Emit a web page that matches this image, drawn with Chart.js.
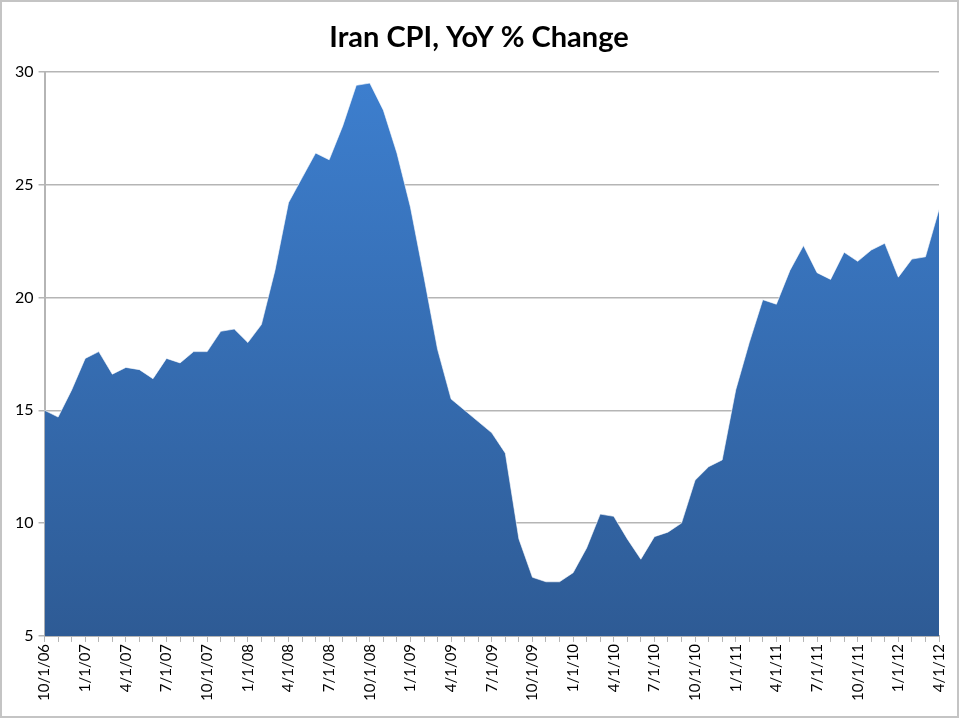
<!DOCTYPE html>
<html lang="en">
<head>
    <meta charset="UTF-8">
    <title>Iran CPI, YoY % Change</title>
    <script src="https://cdn.jsdelivr.net/npm/chart.js"></script>
    <style>
        body {
            margin: 0;
            background-color: #fff;
        }
        canvas {
            display: block;
        }
    </style>
</head>
<body>
    <canvas id="cpiChart" width="959" height="720"></canvas>

    <script>
        // monthly categories, 10/1/06 .. 4/1/12
        const months = [
            '10/1/06', '11/1/06', '12/1/06',
            '1/1/07', '2/1/07', '3/1/07', '4/1/07', '5/1/07', '6/1/07', '7/1/07', '8/1/07', '9/1/07', '10/1/07', '11/1/07', '12/1/07',
            '1/1/08', '2/1/08', '3/1/08', '4/1/08', '5/1/08', '6/1/08', '7/1/08', '8/1/08', '9/1/08', '10/1/08', '11/1/08', '12/1/08',
            '1/1/09', '2/1/09', '3/1/09', '4/1/09', '5/1/09', '6/1/09', '7/1/09', '8/1/09', '9/1/09', '10/1/09', '11/1/09', '12/1/09',
            '1/1/10', '2/1/10', '3/1/10', '4/1/10', '5/1/10', '6/1/10', '7/1/10', '8/1/10', '9/1/10', '10/1/10', '11/1/10', '12/1/10',
            '1/1/11', '2/1/11', '3/1/11', '4/1/11', '5/1/11', '6/1/11', '7/1/11', '8/1/11', '9/1/11', '10/1/11', '11/1/11', '12/1/11',
            '1/1/12', '2/1/12', '3/1/12', '4/1/12'
        ];

        // YoY % change
        const cpiYoY = [
            15.0, 14.7, 15.9,
            17.3, 17.6, 16.6, 16.9, 16.8, 16.4, 17.3, 17.1, 17.6, 17.6, 18.5, 18.6,
            18.0, 18.8, 21.2, 24.2, 25.3, 26.4, 26.1, 27.6, 29.4, 29.5, 28.3, 26.4,
            24.0, 20.9, 17.7, 15.5, 15.0, 14.5, 14.0, 13.1, 9.3, 7.6, 7.4, 7.4,
            7.8, 8.9, 10.4, 10.3, 9.3, 8.4, 9.4, 9.6, 10.0, 11.9, 12.5, 12.8,
            15.9, 18.0, 19.9, 19.7, 21.2, 22.3, 21.1, 20.8, 22.0, 21.6, 22.1, 22.4,
            20.9, 21.7, 21.8, 23.9
        ];

        // y axis range
        const yMin = 5;
        const yMax = 30;
        const yStep = 5;

        // gray frame round the whole picture
        const framePlugin = {
            id: 'frame',
            afterDraw(chart) {
                const ctx = chart.ctx;
                ctx.save();
                ctx.strokeStyle = '#c4c4c4';
                ctx.lineWidth = 2;
                ctx.strokeRect(1, 1, chart.width - 2, chart.height - 4);
                ctx.restore();
            }
        };

        // vertical blue gradient for the area
        function areaGradient(context) {
            const area = context.chart.chartArea;
            if (!area) {
                return '#3669b0';
            }
            const g = context.chart.ctx.createLinearGradient(0, area.top, 0, area.bottom);
            g.addColorStop(0, '#3d7fcf');
            g.addColorStop(1, '#2e5b95');
            return g;
        }

        const ctx = document.getElementById('cpiChart').getContext('2d');

        new Chart(ctx, {
            type: 'line',
            data: {
                labels: months,
                datasets: [{
                    label: 'Iran CPI',
                    data: cpiYoY,
                    fill: 'start',
                    backgroundColor: areaGradient,
                    borderColor: 'rgba(255,255,255,0.6)',
                    borderWidth: 1,
                    pointRadius: 0,
                    tension: 0
                }]
            },
            options: {
                responsive: false,
                animation: false,
                layout: {
                    padding: { left: 10, right: 11, top: 0, bottom: 17 }
                },
                plugins: {
                    legend: { display: false },
                    tooltip: { enabled: false },
                    title: {
                        display: true,
                        text: 'Iran CPI, YoY % Change',
                        color: '#000',
                        font: { family: 'Lato', size: 29, weight: 'bold' },
                        padding: { top: 20, bottom: 17 }
                    }
                },
                scales: {
                    x: {
                        grid: {
                            drawOnChartArea: false,
                            color: '#b5b5b5',
                            tickLength: 6
                        },
                        border: { color: '#b5b5b5', width: 2 },
                        ticks: {
                            autoSkip: false,
                            minRotation: 90,
                            maxRotation: 90,
                            padding: 2,
                            color: '#000',
                            font: { family: 'Lato', size: 15 },
                            callback: function (value, index) {
                                return index % 3 === 0 ? this.getLabelForValue(value) : '';
                            }
                        }
                    },
                    y: {
                        min: yMin,
                        max: yMax,
                        grid: {
                            color: '#b5b5b5',
                            lineWidth: 1.5,
                            tickLength: 6
                        },
                        border: { color: '#b5b5b5', width: 2 },
                        ticks: {
                            stepSize: yStep,
                            padding: 5,
                            color: '#000',
                            font: { family: 'Lato', size: 16 }
                        }
                    }
                }
            },
            plugins: [framePlugin]
        });
    </script>
</body>
</html>
